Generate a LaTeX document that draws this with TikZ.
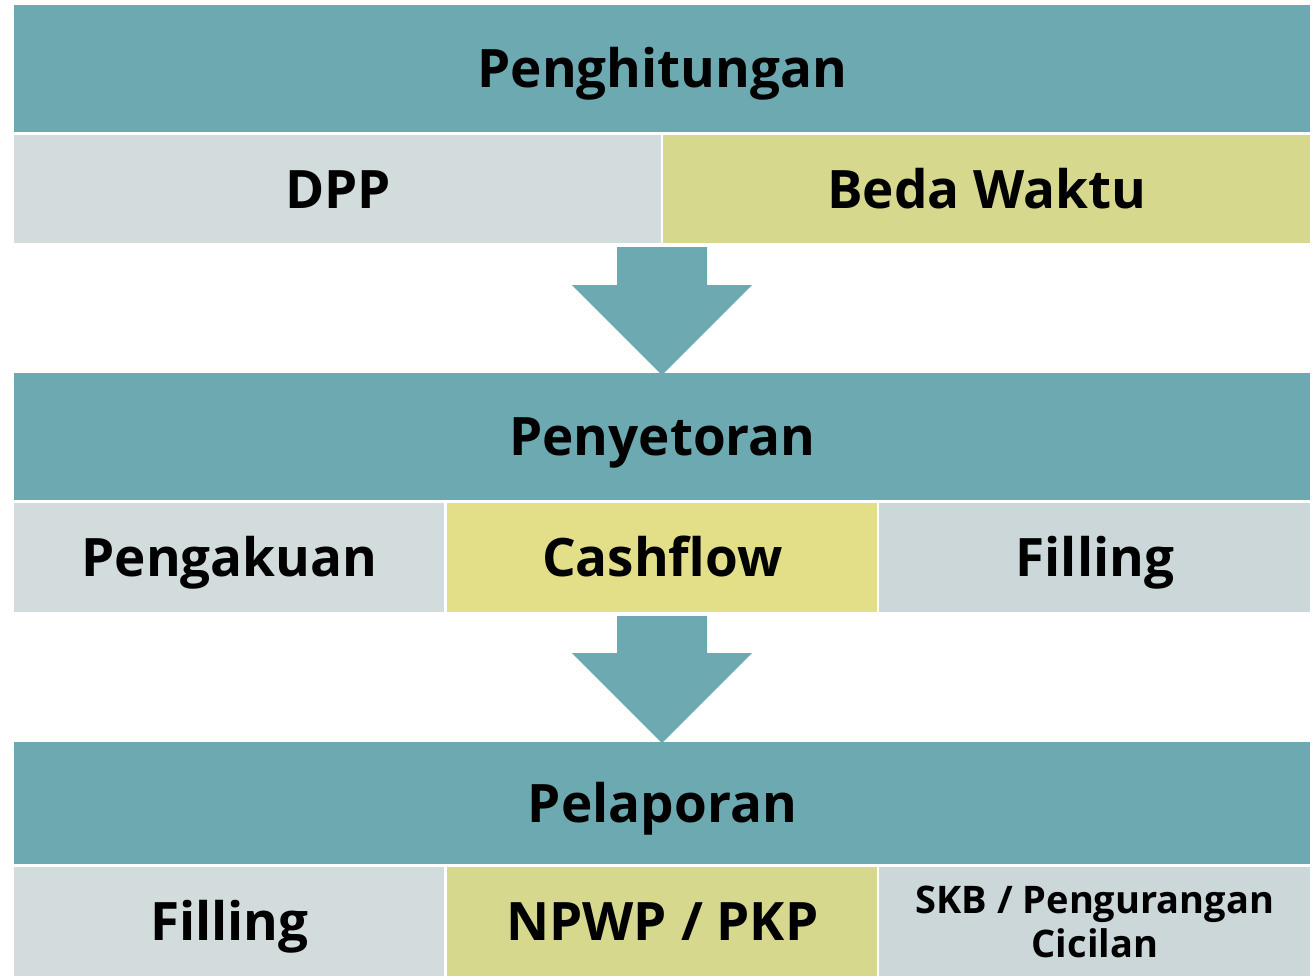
\documentclass[tikz,border=0pt]{standalone}
\usepackage{fontspec}
\setmainfont{Open Sans}
\usepackage{tikz}
\usetikzlibrary{positioning, calc}
\definecolor{tealbar}{HTML}{6CA9B1}
\definecolor{graycell}{HTML}{D3DCDD}
\definecolor{bluegraycell}{HTML}{CBD7D9}
\definecolor{olivecell}{HTML}{D6D88D}
\definecolor{yellowcell}{HTML}{E2DF88}

\begin{document}
\begin{tikzpicture}[x=0.5pt, y=-0.5pt]

    % --- Estilos ---
    \tikzset{
        header/.style={rectangle, anchor=north west, inner sep=0pt, minimum width=648pt, fill=tealbar, font=\fontsize{26.5}{30}\selectfont\bfseries, text=black, text height=18.9pt, text depth=0pt},
        cell/.style={rectangle, anchor=north west, inner sep=0pt, minimum height=54.5pt, font=\fontsize{26.5}{30}\selectfont\bfseries, text=black, align=center},
        oneline/.style={text height=18.9pt, text depth=0pt},
        blockarrow/.style={fill=tealbar, draw=none}
    }

    \useasboundingbox (0,0) rectangle (1315,976);

    % --- Penghitungan ---
    \node (hitung) [header, minimum height=63.5pt] at (14,5) {Penghitungan};
    \node (dpp) [cell, oneline, fill=graycell, minimum width=323.5pt, minimum height=54pt] at (14,135) {DPP};
    \node (beda) [cell, oneline, fill=olivecell, minimum width=323.5pt, minimum height=54pt] at (663,135) {Beda Waktu};

    % --- Flecha 1 ---
    \fill [blockarrow] (617,247) -- (707,247) -- (707,285) -- (752,285) -- (662,375) -- (572,285) -- (617,285) -- cycle;

    % --- Penyetoran ---
    \node (setor) [header, minimum height=63.5pt] at (14,373) {Penyetoran};
    \node (akui) [cell, oneline, fill=graycell, minimum width=215pt] at (14,503) {Pengakuan};
    \node (cash) [cell, oneline, fill=yellowcell, minimum width=215pt] at (447,503) {Cashflow};
    \node (fill1) [cell, oneline, fill=bluegraycell, minimum width=215.5pt] at (879,503) {Filling};

    % --- Flecha 2 ---
    \fill [blockarrow] (617,616) -- (707,616) -- (707,653) -- (752,653) -- (662,743) -- (572,653) -- (617,653) -- cycle;

    % --- Pelaporan ---
    \node (lapor) [header, minimum height=61pt] at (14,742) {Pelaporan};
    \node (fill2) [cell, oneline, fill=graycell, minimum width=215pt] at (14,867) {Filling};
    \node (npwp) [cell, oneline, fill=olivecell, minimum width=215pt] at (447,867) {NPWP / PKP};
    \node (skb) [cell, fill=bluegraycell, minimum width=215.5pt, font=\fontsize{19}{22}\selectfont\bfseries] at (879,867) {SKB / Pengurangan\\Cicilan};

\end{tikzpicture}
\end{document}
